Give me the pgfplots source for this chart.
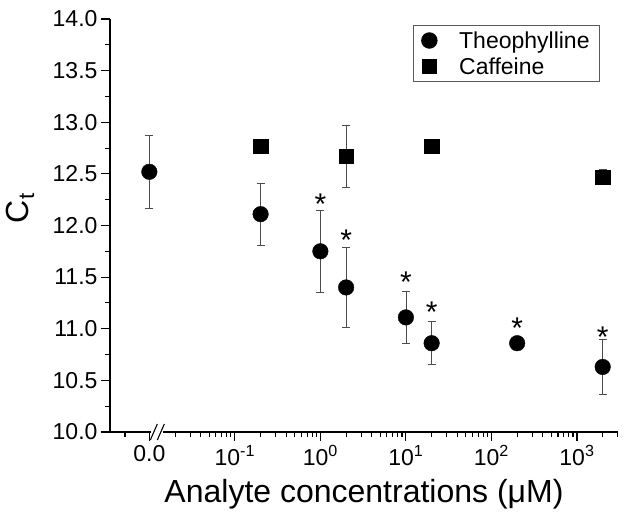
\documentclass[border=0pt]{standalone}
\usepackage{fontspec}
\setmainfont{Liberation Sans}
\usepackage{pgfplots}
\pgfplotsset{compat=1.18}

% x is log10 of the concentration; "0.0" sits at x = -2
\begin{document}
\begin{tikzpicture}
\useasboundingbox (-110pt,-89pt) rectangle (515pt,432pt);
\begin{axis}[
    scale only axis,
    width=508pt, height=413pt,
    xmin=-2.46, xmax=3.48,
    ymin=10, ymax=14,
    axis lines=left,
    axis line style={-, line width=1.2pt},
    every tick/.style={black, line width=1.1pt},
    tick align=outside,
    major tick length=9pt,
    minor tick length=5pt,
    xtick={-2,-1,0,1,2,3},
    xticklabels={0.0, 10\textsuperscript{-1}, 10\textsuperscript{0}, 10\textsuperscript{1}, 10\textsuperscript{2}, 10\textsuperscript{3}},
    minor xtick={-2.284,
        -1.699,-1.523,-1.398,-1.301,-1.222,-1.155,-1.097,-1.046,
        -0.699,-0.523,-0.398,-0.301,-0.222,-0.155,-0.097,-0.046,
        0.301,0.477,0.602,0.699,0.778,0.845,0.903,0.954,
        1.301,1.477,1.602,1.699,1.778,1.845,1.903,1.954,
        2.301,2.477,2.602,2.699,2.778,2.845,2.903,2.954,
        3.301,3.477},
    ytick={10,10.5,...,14},
    minor ytick={10.25,10.75,...,13.75},
    yticklabel style={/pgf/number format/.cd, fixed, fixed zerofill, precision=1},
    /pgf/number format/assume math mode=true,
    ticklabel style={font=\fontsize{23}{26}\selectfont},
    xticklabel style={yshift=-1pt},
    xlabel={Analyte concentrations (μM)},
    ylabel={C\textsubscript{t}},
    label style={font=\fontsize{32}{36}\selectfont},
    xlabel style={at={(axis description cs:0.5,0)}, anchor=north, yshift=-44pt},
    ylabel style={at={(axis description cs:-0.177,0.542)}, anchor=center},
    legend style={at={(1,1)}, anchor=north east, xshift=-18pt, yshift=-6pt,
        draw=gray!70!black, line width=0.8pt,
        font=\fontsize{23}{26}\selectfont,
        row sep=4pt, column sep=20pt, inner xsep=8pt, inner ysep=4pt},
    legend cell align=left,
    error bars/error bar style={gray!60!black, line width=0.8pt},
    error bars/error mark options={rotate=90, mark size=4pt, gray!60!black, line width=0.8pt},
]
\addplot[only marks, mark=*, mark size=7.8pt, black,
    error bars/.cd, y dir=both, y explicit]
    coordinates {
    (-2,12.52) +- (0,0.35)
    (-0.699,12.11) +- (0,0.30)
    (0,11.75) +- (0,0.40)
    (0.301,11.40) +- (0,0.39)
    (1,11.11) +- (0,0.25)
    (1.301,10.86) +- (0,0.21)
    (2.301,10.86) +- (0,0.05)
    (3.301,10.63) +- (0,0.27)
    };
\addlegendentry{Theophylline}
\addplot[only marks, mark=square*, mark size=7.2pt, black,
    error bars/.cd, y dir=both, y explicit]
    coordinates {
    (-0.699,12.77) +- (0,0.02)
    (0.301,12.67) +- (0,0.30)
    (1.301,12.77) +- (0,0.04)
    (3.301,12.47) +- (0,0.07)
    };
\addlegendentry{Caffeine}
% significance stars
\addplot[draw=none, mark=none, forget plot,
    nodes near coords={*}, nodes near coords align=center,
    every node near coord/.append style={font=\fontsize{30}{30}\selectfont, yshift=-7pt}]
    coordinates {
    (0,12.27) (0.301,11.93) (1,11.52) (1.301,11.23) (2.301,11.07) (3.301,10.99)
    };
\coordinate (brk) at (axis cs:-2,10);
\end{axis}
% axis break
\fill[white] ([xshift=1.5pt,yshift=-1pt]brk) rectangle ([xshift=14pt,yshift=1pt]brk);
\draw[line width=1.1pt] ([xshift=1pt,yshift=-8pt]brk) -- ([xshift=8pt,yshift=8pt]brk);
\draw[line width=1.1pt] ([xshift=8pt,yshift=-8pt]brk) -- ([xshift=15pt,yshift=8pt]brk);
\end{tikzpicture}
\end{document}
